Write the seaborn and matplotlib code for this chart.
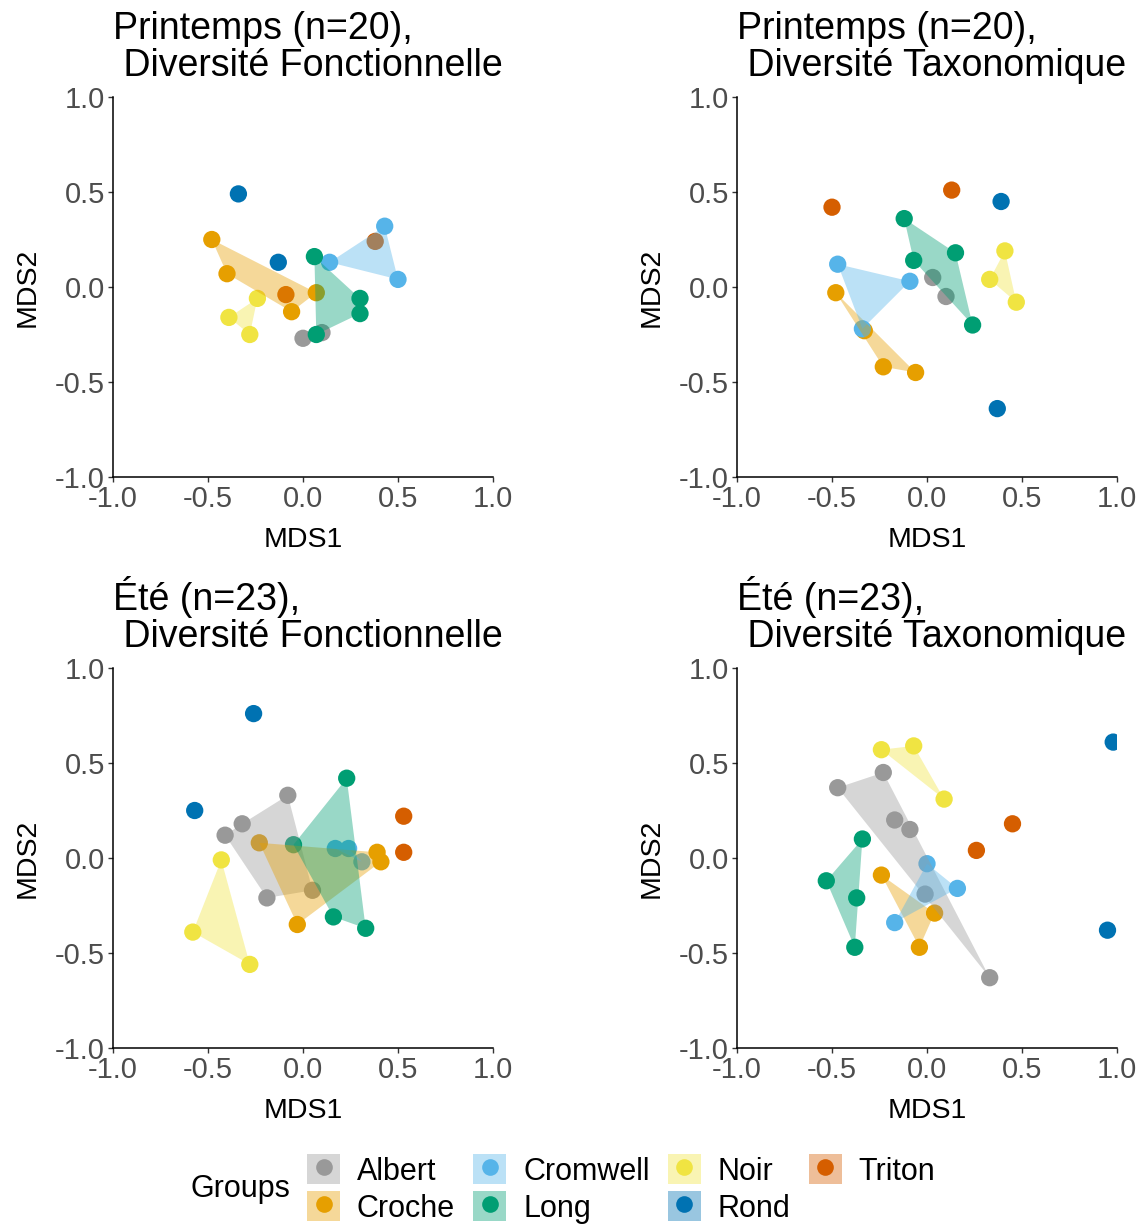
import numpy as np
import pandas as pd
import matplotlib
matplotlib.use("Agg")
import matplotlib.pyplot as plt
import seaborn as sns
from matplotlib.patches import Patch
from matplotlib.lines import Line2D

# ---------------- data ----------------
groups = ["Albert", "Croche", "Cromwell", "Long", "Noir", "Rond", "Triton"]
colors = ["#999999", "#E69F00", "#56B4E9", "#009E73", "#F0E442", "#0072B2", "#D55E00"]

titles = ["Printemps (n=20),\n Diversité Fonctionnelle",
          "Printemps (n=20),\n Diversité Taxonomique",
          "Été (n=23),\n Diversité Fonctionnelle",
          "Été (n=23),\n Diversité Taxonomique"]

ticks = [-1.0, -0.5, 0.0, 0.5, 1.0]
tick_labels = ["-1.0", "-0.5", "0.0", "0.5", "1.0"]

# Panel 1 : Printemps, fonctionnelle
p1_group = ["Albert"] * 2 + ["Croche"] * 4 + ["Cromwell"] * 3 + ["Long"] * 4 + ["Noir"] * 3 + ["Rond"] * 2 + ["Triton"] * 2
p1_x = [0.00, 0.10,
        -0.48, -0.40, 0.07, -0.06,
        0.43, 0.14, 0.50,
        0.06, 0.30, 0.30, 0.07,
        -0.24, -0.39, -0.28,
        -0.34, -0.13,
        -0.09, 0.38]
p1_y = [-0.27, -0.24,
        0.25, 0.07, -0.03, -0.13,
        0.32, 0.13, 0.04,
        0.16, -0.06, -0.14, -0.25,
        -0.06, -0.16, -0.25,
        0.49, 0.13,
        -0.04, 0.24]

# Panel 2 : Printemps, taxonomique
p2_group = ["Albert"] * 2 + ["Croche"] * 4 + ["Cromwell"] * 3 + ["Long"] * 4 + ["Noir"] * 3 + ["Rond"] * 2 + ["Triton"] * 2
p2_x = [0.03, 0.10,
        -0.48, -0.23, -0.06, -0.33,
        -0.47, -0.09, -0.34,
        -0.12, -0.07, 0.15, 0.24,
        0.41, 0.33, 0.47,
        0.39, 0.37,
        -0.50, 0.13]
p2_y = [0.05, -0.05,
        -0.03, -0.42, -0.45, -0.23,
        0.12, 0.03, -0.22,
        0.36, 0.14, 0.18, -0.20,
        0.19, 0.04, -0.08,
        0.45, -0.64,
        0.42, 0.51]

# Panel 3 : Été, fonctionnelle
p3_group = ["Albert"] * 5 + ["Croche"] * 4 + ["Cromwell"] * 3 + ["Long"] * 4 + ["Noir"] * 3 + ["Rond"] * 2 + ["Triton"] * 2
p3_x = [-0.08, -0.32, -0.41, -0.19, 0.05,
        -0.23, -0.03, 0.39, 0.41,
        0.17, 0.24, 0.31,
        0.23, -0.05, 0.16, 0.33,
        -0.43, -0.58, -0.28,
        -0.26, -0.57,
        0.53, 0.53]
p3_y = [0.33, 0.18, 0.12, -0.21, -0.17,
        0.08, -0.35, 0.03, -0.02,
        0.05, 0.05, -0.02,
        0.42, 0.07, -0.31, -0.37,
        -0.01, -0.39, -0.56,
        0.76, 0.25,
        0.22, 0.03]

# Panel 4 : Été, taxonomique
p4_group = ["Albert"] * 6 + ["Croche"] * 3 + ["Cromwell"] * 3 + ["Long"] * 4 + ["Noir"] * 3 + ["Rond"] * 2 + ["Triton"] * 2
p4_x = [-0.23, -0.47, -0.17, -0.09, 0.33, -0.01,
        -0.24, 0.04, -0.04,
        0.00, 0.16, -0.17,
        -0.34, -0.53, -0.37, -0.38,
        -0.24, -0.07, 0.09,
        0.98, 0.95,
        0.45, 0.26]
p4_y = [0.45, 0.37, 0.20, 0.15, -0.63, -0.19,
        -0.09, -0.29, -0.47,
        -0.03, -0.16, -0.34,
        0.10, -0.12, -0.21, -0.47,
        0.57, 0.59, 0.31,
        0.61, -0.38,
        0.18, 0.04]

panels = [(p1_group, p1_x, p1_y), (p2_group, p2_x, p2_y),
          (p3_group, p3_x, p3_y), (p4_group, p4_x, p4_y)]

palette = dict(zip(groups, colors))


def convex_hull(pts):
    pts = sorted(set(map(tuple, pts)))
    if len(pts) < 3:
        return pts

    def cross(o, a, b):
        return (a[0] - o[0]) * (b[1] - o[1]) - (a[1] - o[1]) * (b[0] - o[0])

    lower = []
    for p in pts:
        while len(lower) >= 2 and cross(lower[-2], lower[-1], p) <= 0:
            lower.pop()
        lower.append(p)
    upper = []
    for p in reversed(pts):
        while len(upper) >= 2 and cross(upper[-2], upper[-1], p) <= 0:
            upper.pop()
        upper.append(p)
    return lower[:-1] + upper[:-1]


# ---------------- style ----------------
sns.set_theme(style="ticks")
plt.rcParams["font.family"] = ["Liberation Sans", "DejaVu Sans"]
plt.rcParams["text.color"] = "black"

W, H = 1146, 1226
fig = plt.figure(figsize=(W / 100, H / 100), dpi=100)

ax_px = [(113, 97), (737, 97), (113, 668), (737, 668)]  # left, top in pixels
size_px = 380

tick_fs = 21
label_fs = 20.5
title_fs = 27
legend_fs = 22

for i, ((g, x, y), (lp, tp)) in enumerate(zip(panels, ax_px)):
    ax = fig.add_axes([lp / W, 1 - (tp + size_px) / H, size_px / W, size_px / H])
    df = pd.DataFrame({"MDS1": x, "MDS2": y, "Groups": g})
    sns.scatterplot(data=df, x="MDS1", y="MDS2", hue="Groups", palette=palette,
                    s=155, linewidth=0, alpha=1.0, legend=False, ax=ax, zorder=2)
    for grp in groups:
        sub = df[df["Groups"] == grp]
        if len(sub) >= 3:
            hull = convex_hull(sub[["MDS1", "MDS2"]].values)
            if len(hull) >= 3:
                hx, hy = zip(*hull)
                ax.fill(hx, hy, color=palette[grp], alpha=0.4, lw=0, zorder=3)
    ax.set_xlim(-1, 1)
    ax.set_ylim(-1, 1)
    ax.set_xticks(ticks)
    ax.set_xticklabels(tick_labels)
    ax.set_yticks(ticks)
    ax.set_yticklabels(tick_labels)
    for side in ["top", "right"]:
        ax.spines[side].set_visible(False)
    for side in ["left", "bottom"]:
        ax.spines[side].set_color("black")
        ax.spines[side].set_linewidth(1.1)
    ax.tick_params(axis="both", length=3.8, width=1.0, color="#333333",
                   labelsize=tick_fs, labelcolor="#4D4D4D", pad=2)
    ax.set_xlabel("MDS1", fontsize=label_fs, color="black")
    ax.set_ylabel("MDS2", fontsize=label_fs, color="black")
    ax.xaxis.set_label_coords(0.5, (477 - 540) / 380)
    ax.xaxis.label.set_va("center")
    ax.yaxis.set_label_coords((28 - 113) / 380, 0.5)
    ax.yaxis.label.set_va("center")
    ax.yaxis.label.set_rotation_mode("anchor")
    ax.set_title(titles[i], loc="left", fontsize=title_fs, pad=15,
                 linespacing=1.04, color="black")
    ax.set_facecolor("white")

# ---------------- legend ----------------
handles = []
for grp, c in zip(groups, colors):
    handles.append((Patch(facecolor=c, alpha=0.4, edgecolor="none"),
                    Line2D([], [], marker="o", linestyle="none", markersize=12,
                           markerfacecolor=c, markeredgewidth=0)))
leg = fig.legend(handles, groups, loc="center left",
                 bbox_to_anchor=(307 / W, 1 - 1189 / H), ncol=4, frameon=False,
                 fontsize=legend_fs, handlelength=1.08, handleheight=1.12,
                 handletextpad=0.55, columnspacing=0.6, labelspacing=0.15,
                 borderpad=0, borderaxespad=0)
for t in leg.get_texts():
    t.set_color("black")
fig.text(190 / W, 1 - 1189 / H, "Groups", fontsize=legend_fs, va="center", ha="left",
         color="black")

fig.savefig("out.png", dpi=100, facecolor="white")
